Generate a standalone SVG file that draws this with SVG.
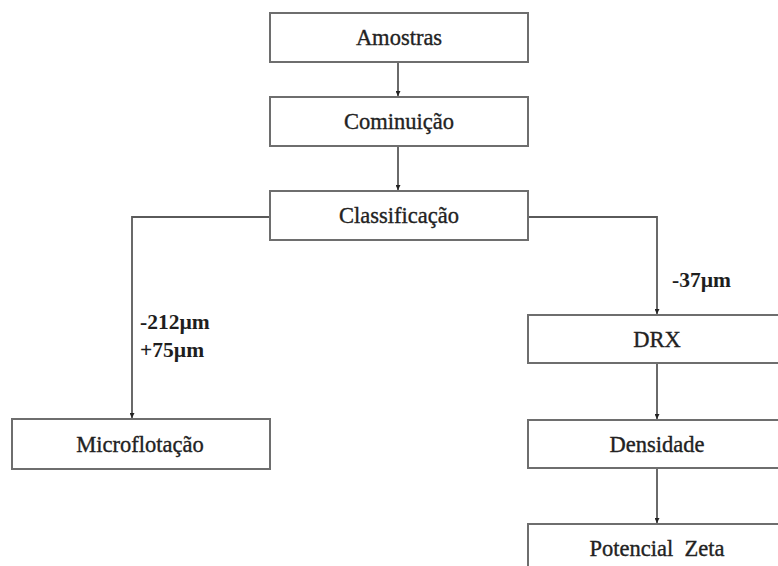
<svg xmlns="http://www.w3.org/2000/svg" width="778" height="566" viewBox="0 0 778 566">
<style>
.box{fill:#fff;stroke:#6e6e6e;stroke-width:2}
.t{font-family:"Liberation Serif","Times New Roman",serif;font-size:22.5px;fill:#222;stroke:#222;stroke-width:0.35;text-anchor:middle}
.lbl{font-family:"Liberation Serif","Times New Roman",serif;font-size:21.5px;font-weight:bold;fill:#1e1e1e}
.c{fill:none;stroke:#5a5a5a;stroke-width:1.8}
</style>
<defs>
<marker id="ah" markerWidth="6" markerHeight="5" refX="5" refY="2.5" orient="auto" markerUnits="userSpaceOnUse">
<path d="M0,0 L5,2.5 L0,5 Z" fill="#222"/>
</marker>
</defs>
<rect width="778" height="566" fill="#fff"/>
<g id="connectors">
<line class="c" x1="398" y1="62" x2="398" y2="96" marker-end="url(#ah)"/>
<line class="c" x1="398" y1="146" x2="398" y2="190" marker-end="url(#ah)"/>
<polyline class="c" points="270,217 132,217 132,418" marker-end="url(#ah)"/>
<polyline class="c" points="528,217 657,217 657,314" marker-end="url(#ah)"/>
<line class="c" x1="657" y1="363" x2="657" y2="419" marker-end="url(#ah)"/>
<line class="c" x1="657" y1="468" x2="657" y2="523" marker-end="url(#ah)"/>
</g>
<g id="amostras"><rect class="box" x="270" y="13" width="258" height="49"/><text class="t" x="399" y="45">Amostras</text></g>
<g id="cominuicao"><rect class="box" x="270" y="97" width="258" height="49"/><text class="t" x="399" y="129">Cominuição</text></g>
<g id="classificacao"><rect class="box" x="270" y="191" width="258" height="49"/><text class="t" x="399" y="223">Classificação</text></g>
<g id="microflotacao"><rect class="box" x="12" y="419" width="258" height="50"/><text class="t" x="140" y="452">Microflotação</text></g>
<g id="drx"><rect class="box" x="528" y="315" width="258" height="48"/><text class="t" x="657" y="347">DRX</text></g>
<g id="densidade"><rect class="box" x="528" y="420" width="258" height="48"/><text class="t" x="657" y="452">Densidade</text></g>
<g id="potencial"><rect class="box" x="528" y="524" width="258" height="49"/><text class="t" x="657" y="556" xml:space="preserve">Potencial  Zeta</text></g>
<g id="labels">
<text class="lbl" x="140" y="329">-212µm</text>
<text class="lbl" x="140" y="357">+75µm</text>
<text class="lbl" x="672" y="287">-37µm</text>
</g>
</svg>
